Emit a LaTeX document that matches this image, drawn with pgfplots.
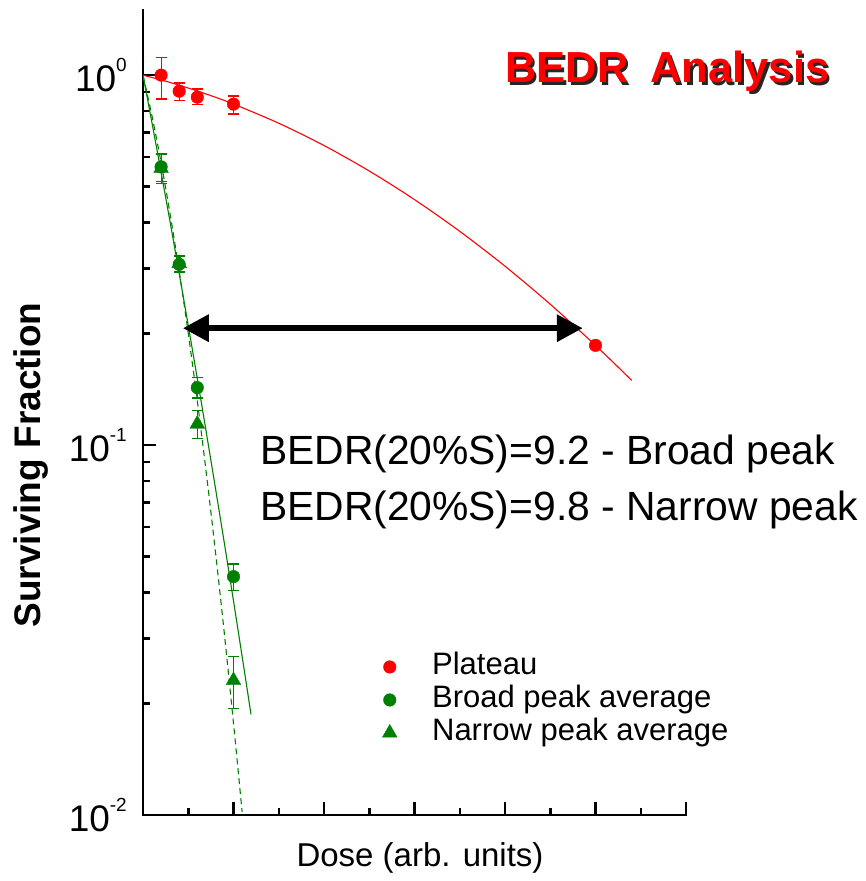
\documentclass[border=0pt]{standalone}
\usepackage{fontspec}
\setmainfont{Liberation Sans}
\usepackage{pgfplots}
\usepackage{pgfplotstable}
\pgfplotsset{compat=1.18}
\usetikzlibrary{arrows.meta}

\definecolor{platred}{RGB}{255,0,0}
\definecolor{peakgreen}{RGB}{0,128,0}

% measured survival: dose, surviving fraction, upper and lower error
\pgfplotstableread{
dose   sf      eplus   eminus
0.4    1.000   0.118   0.138
0.8    0.905   0.047   0.049
1.2    0.872   0.045   0.037
2.0    0.835   0.043   0.050
10.0   0.186   0.000   0.000
}\plateau

\pgfplotstableread{
dose   sf      eplus   eminus
0.4    0.565   0.050   0.050
0.8    0.308   0.015   0.015
1.2    0.143   0.009   0.009
2.0    0.0441  0.0036  0.0036
}\broadpeak

\pgfplotstableread{
dose   sf      eplus   eminus
0.4    0.560   0.050   0.050
0.8    0.310   0.015   0.015
1.2    0.114   0.010   0.010
2.0    0.0231  0.0037  0.0037
}\narrowpeak

% linear-quadratic fits, tabulated
\pgfplotstableread{
dose  sf
0.0   1.0000
0.5   0.9630
1.0   0.9229
1.5   0.8802
2.0   0.8354
3.0   0.7414
4.0   0.6453
5.0   0.5507
6.0   0.4609
7.0   0.3783
8.0   0.3045
9.0   0.2403
10.0  0.1860
10.8  0.1496
}\plateaufit

\pgfplotstableread{
dose   sf
0.0    1.0000
0.2    0.7415
0.4    0.5463
0.6    0.4000
0.8    0.2911
1.0    0.2105
1.2    0.1513
1.4    0.1080
1.6    0.0766
1.8    0.0541
2.0    0.0379
2.2    0.02638
2.387  0.0187
}\broadfit

\pgfplotstableread{
dose   sf
0.0    1.0000
0.2    0.7742
0.4    0.5800
0.6    0.4206
0.8    0.2952
1.0    0.2005
1.2    0.1318
1.4    0.0838
1.6    0.0516
1.8    0.03075
2.0    0.0177
2.1    0.01329
2.19   0.0102
}\narrowfit

\newcommand{\decade}[1]{10\raisebox{20pt}{\fontsize{19}{19}\selectfont #1}}

\pgfplotsset{
  legend mark/.style={legend image code/.code={%
      \draw[##1, only marks] plot coordinates {(14pt,0pt)};}},
}

\begin{document}
\begin{tikzpicture}
\begin{axis}[
  at={(143pt,66pt)}, anchor=south west,
  scale only axis, width=543pt, height=805pt,
  xmin=0, xmax=12, ymode=log, ymin=0.01, ymax=1.5,
  axis x line=bottom, axis y line=left,
  axis line style={-, line width=2.6pt, black, line cap=rect},
  tick align=inside,
  xtick={2,4,...,12}, minor xtick={1,3,...,11}, xticklabels={},
  ytick={0.01,0.1,1}, yticklabels={\decade{-2},\decade{-1},\decade{0}},
  minor ytick={0.02,0.03,0.04,0.05,0.06,0.07,0.08,0.09,0.2,0.3,0.4,0.5,0.6,0.7,0.8,0.9},
  major tick length=13pt, minor tick length=7.5pt,
  tick style={black, line width=2.5pt},
  yticklabel style={font=\fontsize{37}{37}\selectfont, inner sep=0pt, xshift=-16pt},
  legend style={draw=none, fill=none, at={(0.435,0.204)}, anchor=north west,
    font=\fontsize{31}{31}\selectfont, row sep=5pt,
    nodes={text height=22pt, text depth=6pt, inner sep=0pt}},
  legend cell align=left,
]
% fitted survival curves
\addplot[platred, line width=1.1pt, smooth, forget plot] table[x=dose, y=sf] {\plateaufit};
\addplot[peakgreen, line width=1.1pt, smooth, forget plot] table[x=dose, y=sf] {\broadfit};
\addplot[peakgreen, line width=1.1pt, smooth, dash pattern=on 6pt off 4pt, forget plot] table[x=dose, y=sf] {\narrowfit};

% dose ratio at 20% survival
\draw[line width=6.3pt, {Triangle[length=26pt,width=26pt]}-{Triangle[length=26pt,width=26pt]}]
  (axis cs:0.88,0.207) -- (axis cs:9.72,0.207);

% measured points with error bars
\addplot[only marks, mark=*, mark size=6.3pt, color=platred, fill=platred, legend mark,
  error bars/.cd, y dir=both, y explicit, error mark=-,
  error bar style={line width=1.2pt, draw=platred},
  error mark options={rotate=90, line width=1.2pt, mark size=5.5pt, draw=platred}]
  table[x=dose, y=sf, y error plus=eplus, y error minus=eminus] {\plateau};
\addlegendentry{\hspace{35pt}Plateau}
\addplot[only marks, mark=*, mark size=6.3pt, color=peakgreen, fill=peakgreen, legend mark,
  error bars/.cd, y dir=both, y explicit, error mark=-,
  error bar style={line width=1.2pt, draw=peakgreen},
  error mark options={rotate=90, line width=1.2pt, mark size=5.5pt, draw=peakgreen}]
  table[x=dose, y=sf, y error plus=eplus, y error minus=eminus] {\broadpeak};
\addlegendentry{\hspace{35pt}Broad peak average}
\addplot[only marks, mark=triangle*, mark size=8.5pt, color=peakgreen, fill=peakgreen, legend mark,
  error bars/.cd, y dir=both, y explicit, error mark=-,
  error bar style={line width=1.2pt, draw=peakgreen},
  error mark options={rotate=90, line width=1.2pt, mark size=5.5pt, draw=peakgreen}]
  table[x=dose, y=sf, y error plus=eplus, y error minus=eminus] {\narrowpeak};
\addlegendentry{\hspace{35pt}Narrow peak average}
\end{axis}

% title with drop shadow
\newcommand{\titletext}{\fontsize{43.5}{44}\selectfont\bfseries BEDR\hspace{22pt}Analysis}
\node[anchor=base west, inner sep=0pt] at (505pt,798pt)
  {\makebox[0pt][l]{\hspace{2.5pt}\raisebox{-2.5pt}{\color{black!85}\titletext}}\color{platred}\titletext};

% BEDR values
\node[anchor=base west, inner sep=0pt, font=\fontsize{40.8}{41}\selectfont] at (260pt,416pt) {BEDR(20\%S)=9.2 - Broad peak};
\node[anchor=base west, inner sep=0pt, font=\fontsize{40.8}{41}\selectfont] at (260pt,360pt) {BEDR(20\%S)=9.8 - Narrow peak};

% axis titles
\node[rotate=90, font=\bfseries\fontsize{37}{37}\selectfont] at (31pt,416pt) {Surviving Fraction};
\node[font=\fontsize{33}{33}\selectfont] at (420pt,23pt) {Dose (arb. units)};

\pgfresetboundingbox
\path[use as bounding box] (0pt,0pt) rectangle (866pt,881pt);
\end{tikzpicture}
\end{document}
